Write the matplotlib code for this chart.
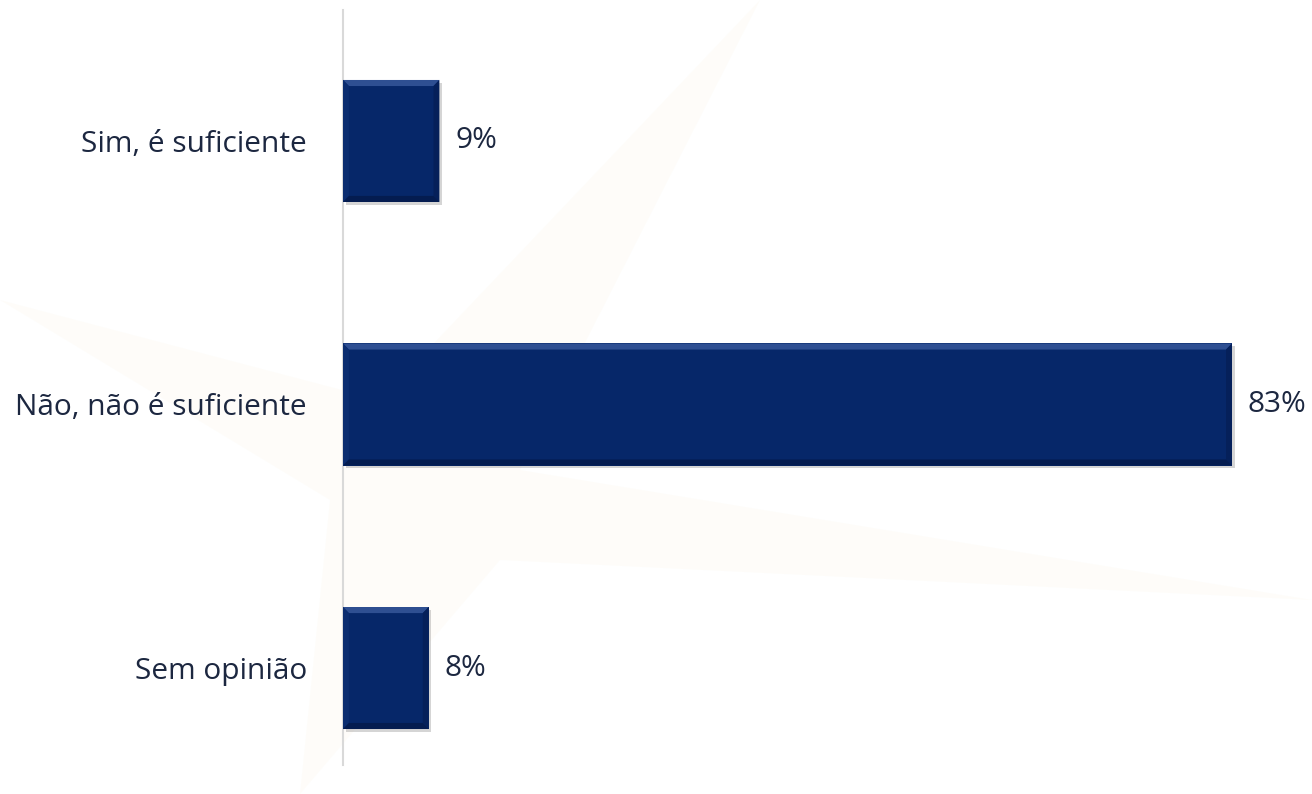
import matplotlib
matplotlib.use("Agg")
import matplotlib.pyplot as plt
import matplotlib.patheffects as pe
from matplotlib.patches import Polygon

# data
categories = ["Sim, é suficiente", "Não, não é suficiente", "Sem opinião"]
values = [9, 83, 8]
value_labels = ["9%", "83%", "8%"]

bar_color = "#062769"
text_color = "#1c2740"

plt.rcParams['font.family'] = ['Open Sans', 'DejaVu Sans']

fig = plt.figure(figsize=(13.12, 7.94), dpi=100)
fig.patch.set_facecolor("white")

# very faint watermark star in the background (decoration only)
W, H = 1312.0, 794.0
def fpt(x, y):
    return (x / W, 1 - y / H)
star = [fpt(0, 300), fpt(380, 400), fpt(760, 0), fpt(520, 470),
        fpt(1312, 600), fpt(500, 560), fpt(300, 794), fpt(330, 500)]
fig.patches.append(Polygon(star, closed=True, transform=fig.transFigure,
                           facecolor="#fbe9c8", edgecolor="none", alpha=0.1, zorder=-5))

ax = fig.add_axes([343 / W, 1 - 765 / H, 1 - 343 / W, (765 - 10) / H])
ax.patch.set_alpha(0)
ax.set_zorder(2)

ypos = list(range(len(categories)))
bar_h = 0.463
bars = ax.barh(ypos, values, height=bar_h, color=bar_color, edgecolor="none", zorder=3)
for b in bars:
    b.set_path_effects([pe.SimplePatchShadow(offset=(2, -2), shadow_rgbFace="#777777", alpha=0.3),
                        pe.Normal()])

ax.set_xlim(0, (W - 343) / 10.71)
ax.set_ylim(2.368, -0.497)

# bevel edges on each bar
bx_w = 0.55   # bevel in x data units (~6px)
by_w = 0.023  # bevel in y data units (~6px)
for b in bars:
    x0, y0 = b.get_x(), b.get_y()
    x1, y1 = x0 + b.get_width(), y0 + b.get_height()
    # top (y0 is upper edge since axis is inverted)
    ax.add_patch(Polygon([(x0, y0), (x1, y0), (x1 - bx_w, y0 + by_w), (x0 + bx_w, y0 + by_w)],
                         facecolor="#2e4f92", edgecolor="none", zorder=4))
    # left
    ax.add_patch(Polygon([(x0, y0), (x0 + bx_w, y0 + by_w), (x0 + bx_w, y1 - by_w), (x0, y1)],
                         facecolor="#0b2d70", edgecolor="none", zorder=4))
    # right
    ax.add_patch(Polygon([(x1, y0), (x1, y1), (x1 - bx_w, y1 - by_w), (x1 - bx_w, y0 + by_w)],
                         facecolor="#05205a", edgecolor="none", zorder=4))
    # bottom
    ax.add_patch(Polygon([(x0, y1), (x1, y1), (x1 - bx_w, y1 - by_w), (x0 + bx_w, y1 - by_w)],
                         facecolor="#041c50", edgecolor="none", zorder=4))

for b, lab in zip(bars, value_labels):
    ax.annotate(lab, (b.get_width(), b.get_y() + b.get_height() / 2),
                xytext=(11.5, 0), textcoords="offset points",
                ha="left", va="center", fontsize=21.5, color=text_color)

ax.set_yticks(ypos)
ax.set_yticklabels(categories, fontsize=21.5, color=text_color)
ax.tick_params(axis="y", length=0, pad=26)
ax.set_xticks([])
for s in ["top", "right", "bottom"]:
    ax.spines[s].set_visible(False)
ax.spines["left"].set_color("#d9d9d9")
ax.spines["left"].set_linewidth(1.5)

fig.savefig("out.png", dpi=100)
